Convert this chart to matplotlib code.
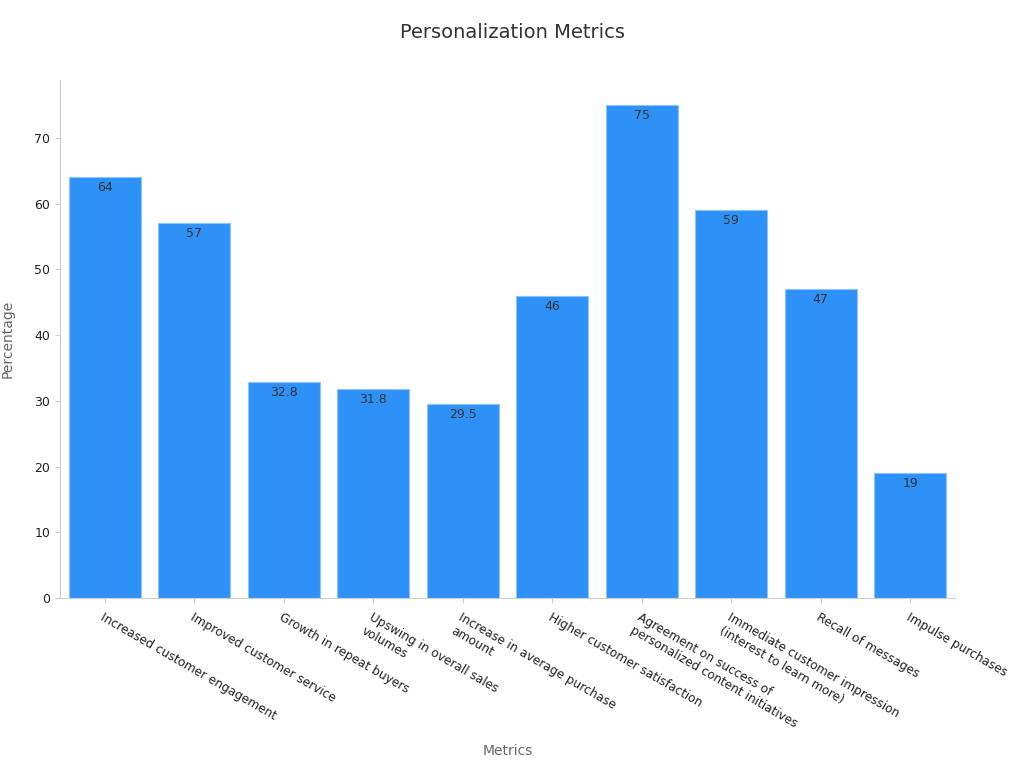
import matplotlib
matplotlib.use("Agg")
import matplotlib.pyplot as plt

categories = ["Increased customer engagement", "Improved customer service", "Growth in repeat buyers",
              "Upswing in overall sales\nvolumes", "Increase in average purchase\namount",
              "Higher customer satisfaction", "Agreement on success of\npersonalized content initiatives",
              "Immediate customer impression\n(interest to learn more)", "Recall of messages", "Impulse purchases"]
values = [64, 57, 32.8, 31.8, 29.5, 46, 75, 59, 47, 19]
labels = ["64", "57", "32.8", "31.8", "29.5", "46", "75", "59", "47", "19"]

fig = plt.figure(figsize=(10.24, 7.68), dpi=100)
ax = fig.add_axes([60/1024, 1-598/768, 895/1024, 518/768])
x = list(range(len(categories)))
ax.bar(x, values, width=0.8, color="#2e91f8", edgecolor="#8cc4fb", linewidth=0.8)
for xi, v, l in zip(x, values, labels):
    ax.text(xi, v - 0.6, l, ha="center", va="top", fontsize=9, color="#333333")
ax.set_xlim(-0.5, 9.5)
ax.set_ylim(0, 78.8)
ax.set_xticks(x)
ax.set_xticklabels(categories, rotation=-30, ha="left", rotation_mode="anchor", fontsize=8.7, color="#222222")
ax.set_yticks(range(0, 80, 10))
ax.tick_params(axis="y", labelsize=9, colors="#222222")
ax.tick_params(axis="both", color="#cccccc")
ax.tick_params(axis="x", pad=6)
for s in ["top", "right"]:
    ax.spines[s].set_visible(False)
for s in ["left", "bottom"]:
    ax.spines[s].set_color("#cccccc")
ax.set_ylabel("Percentage", fontsize=10, color="#666666", labelpad=14)
fig.text(508/1024, 1-751/768, "Metrics", ha="center", va="center", fontsize=10, color="#666666")
fig.text(0.5, 1-33/768, "Personalization Metrics", ha="center", va="center", fontsize=14, color="#333333")
fig.savefig("out.png", dpi=100)
